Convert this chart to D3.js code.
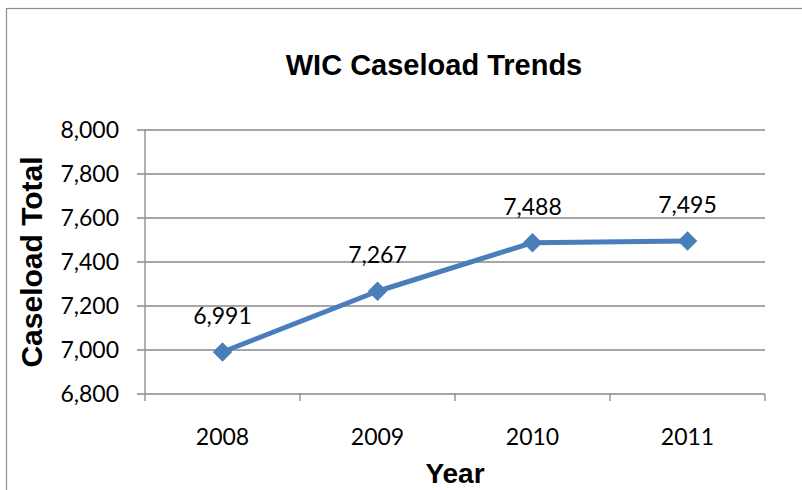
<!DOCTYPE html>
<html>
<head>
  <meta charset="utf-8">
  <title>WIC Caseload Trends</title>
  <script src="https://d3js.org/d3.v7.min.js"></script>
  <style>
    html, body {
      margin: 0;
      padding: 0;
      background: #fff;
    }
    svg { display: block; }
    .num { font-family: Lato, "Open Sans", sans-serif; font-size: 23px; fill: #000; }
    .bold { font-family: "Liberation Sans", Arial, sans-serif; font-weight: bold; fill: #000; }
  </style>
</head>
<body>
  <svg width="802" height="490"></svg>
  <script>
    // chart data
    const years = ["2008", "2009", "2010", "2011"];
    const caseload = [6991, 7267, 7488, 7495];
    const yTicks = [6800, 7000, 7200, 7400, 7600, 7800, 8000];

    const plot = { left: 145, right: 765, top: 130, bottom: 394 };

    const svg = d3.select("svg");

    // outer chart border
    svg.append("rect")
      .attr("x", 6.5).attr("y", 8.5)
      .attr("width", 810).attr("height", 500)
      .attr("fill", "none")
      .attr("stroke", "#8c8c8c")
      .attr("stroke-width", 1.2);

    const x = d3.scaleBand()
      .domain(years)
      .range([plot.left, plot.right]);

    const y = d3.scaleLinear()
      .domain([6800, 8000])
      .range([plot.bottom, plot.top]);

    // horizontal gridlines
    svg.append("g")
      .selectAll("line")
      .data(yTicks)
      .join("line")
      .attr("x1", plot.left - 8)
      .attr("x2", plot.right)
      .attr("y1", d => y(d))
      .attr("y2", d => y(d))
      .attr("stroke", "#888")
      .attr("stroke-width", 1.3);

    // y axis line
    svg.append("line")
      .attr("x1", plot.left).attr("x2", plot.left)
      .attr("y1", plot.top).attr("y2", plot.bottom)
      .attr("stroke", "#888").attr("stroke-width", 1.3);

    // x tick marks at category boundaries
    const bounds = years.map(d => x(d)).concat([plot.right]);
    svg.append("g")
      .selectAll("line")
      .data(bounds)
      .join("line")
      .attr("x1", d => d).attr("x2", d => d)
      .attr("y1", plot.bottom).attr("y2", plot.bottom + 7)
      .attr("stroke", "#888").attr("stroke-width", 1.3);

    // y tick labels
    const fmt = d3.format(",");
    svg.append("g")
      .selectAll("text")
      .data(yTicks)
      .join("text")
      .attr("class", "num")
      .attr("x", 119)
      .attr("y", d => y(d))
      .attr("dy", "0.36em")
      .attr("text-anchor", "end")
      .text(d => fmt(d));

    // x tick labels
    svg.append("g")
      .selectAll("text")
      .data(years)
      .join("text")
      .attr("class", "num")
      .attr("x", d => x(d) + x.bandwidth() / 2)
      .attr("y", 445)
      .attr("text-anchor", "middle")
      .text(d => d);

    // series line
    const pts = years.map((d, i) => ({ year: d, value: caseload[i] }));
    const cx = d => x(d.year) + x.bandwidth() / 2;

    svg.append("path")
      .datum(pts)
      .attr("fill", "none")
      .attr("stroke", "#4a7ebb")
      .attr("stroke-width", 5)
      .attr("stroke-linejoin", "round")
      .attr("d", d3.line().x(cx).y(d => y(d.value)));

    // diamond markers
    svg.append("g")
      .selectAll("path")
      .data(pts)
      .join("path")
      .attr("transform", d => `translate(${cx(d)},${y(d.value)}) rotate(45)`)
      .attr("d", d3.symbol(d3.symbolSquare, 190)())
      .attr("fill", "#4a7ebb");

    // data labels
    svg.append("g")
      .selectAll("text")
      .data(pts)
      .join("text")
      .attr("class", "num")
      .attr("x", cx)
      .attr("y", d => y(d.value) - 28)
      .attr("text-anchor", "middle")
      .text(d => fmt(d.value));

    // titles
    svg.append("text")
      .attr("class", "bold")
      .attr("x", 434).attr("y", 75)
      .attr("text-anchor", "middle")
      .style("font-size", "29px")
      .text("WIC Caseload Trends");

    svg.append("text")
      .attr("class", "bold")
      .attr("x", (plot.left + plot.right) / 2).attr("y", 483)
      .attr("text-anchor", "middle")
      .style("font-size", "28px")
      .text("Year");

    svg.append("text")
      .attr("class", "bold")
      .attr("transform", `translate(42,${(plot.top + plot.bottom) / 2}) rotate(-90)`)
      .attr("text-anchor", "middle")
      .style("font-size", "30px")
      .text("Caseload Total");
  </script>
</body>
</html>
